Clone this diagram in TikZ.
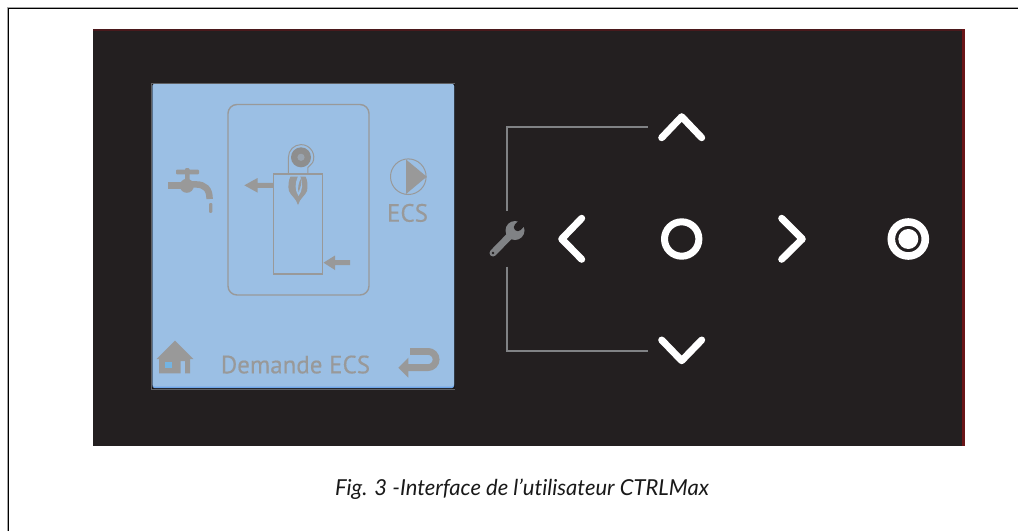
\documentclass[tikz,border=0pt]{standalone}
\usepackage{fontspec}
\setmainfont[Ligatures=NoCommon]{Lato}
\newfontfamily\lcdfont[FakeBold=0.3]{PT Sans}
\definecolor{panel}{HTML}{231F20}
\definecolor{lcd}{HTML}{9BBFE4}
\definecolor{lcdedge}{HTML}{6FA5E8}
\definecolor{glyph}{HTML}{999999}
\definecolor{glyphdark}{HTML}{8E8E8E}
\definecolor{wrenchgray}{HTML}{808285}
\definecolor{redge}{HTML}{6A1518}
\definecolor{houseblue}{HTML}{74B4E2}
\tikzset{
  glyphline/.style={draw=glyph,line width=1.9pt},
  boilerline/.style={draw=glyph,line width=1.4pt},
  glyphthin/.style={draw=glyph,line width=1pt},
  keyline/.style={draw=white,line width=7pt,line cap=round,line join=round},
  linkline/.style={draw=wrenchgray,line width=2pt},
  lcdtext/.style={text=glyph,font=\lcdfont\fontsize{25}{25}\selectfont,inner sep=0pt,anchor=base},
}
\begin{document}
\begin{tikzpicture}[x=1pt,y=1pt,yscale=-1]
\useasboundingbox (0,0) rectangle (1018,531);
\fill[white] (0,0) rectangle (1018,531);
% page frame
\draw[black!35,line width=1pt] (7.5,531) -- (7.5,7.5) -- (1018,7.5);
\draw[black,line width=1.1pt] (8.5,531) -- (8.5,8.5) -- (1018,8.5);
% panel
\fill[panel] (93,29) rectangle (965,445.5);
\fill[redge!55!panel] (93,29) rectangle (965,31);
\fill[redge] (962,29) rectangle (965,445.5);
% screen
\fill[wrenchgray!75!black] (150.5,83) rectangle (455,389.5);
\fill[panel!70!black] (151.8,84) rectangle (454.6,388.6);
\fill[lcdedge,rounded corners=2pt] (152.5,84) rectangle (454,388);
\fill[lcd,rounded corners=2pt] (152.5,84) rectangle (454,386.5);
% boiler frame and tank
\draw[boilerline,rounded corners=9pt] (228,104.5) rectangle (369,295);
\draw[glyphline] (273.5,174) rectangle (322.5,274);
% burner
\draw[glyphthin] (288.4,173.5) -- (288.4,157.3) arc[start angle=180,end angle=385,radius=12.7pt] -- (307.8,167.5) -- (307.8,173.5);
\fill[glyphdark] (301,157.3) circle[radius=10pt];
\fill[glyph!70!lcd] (301,157.3) circle[radius=3.6pt];
% flame
\fill[glyph] (290.5,176.5) .. controls (288.5,180) and (287.8,187) .. (289,191) .. controls (291,196) and (296,198) .. (298,205) .. controls (300,198) and (305,196) .. (307,191) .. controls (308,186) and (307.5,180) .. (305.5,176.5) -- cycle;
\fill[lcd] (298,176) .. controls (295,183) and (294.5,190) .. (298.5,196) .. controls (302.5,191) and (303.5,183) .. (300,176) -- cycle;
\fill[glyph] (301.2,178) .. controls (298.5,183) and (297.5,188) .. (298.5,192) .. controls (300.5,188) and (302,183) .. (301.2,178) -- cycle;
% tank arrows
\fill[glyph] (244.3,185.3) -- (257.5,178) -- (257.5,182.8) -- (273,182.8) -- (273,187.8) -- (257.5,187.8) -- (257.5,192.6) -- cycle;
\fill[glyph] (323.5,262.7) -- (335,255.5) -- (335,260.2) -- (350,260.2) -- (350,265.2) -- (335,265.2) -- (335,270) -- cycle;
% tap
\fill[glyph,rounded corners=1pt] (176,169.5) rectangle (199,174.3);
\fill[glyph,rounded corners=1pt] (185,168) rectangle (189.5,182);
\fill[glyph] (186.8,185.8) circle[radius=7pt];
\fill[glyph] (168,182.3) rectangle (186,189);
\draw[glyph,line width=6.5pt] (186,184.4) -- (196,184.4) .. controls (205,184.6) and (209.6,189) .. (209.6,199);
\fill[glyph,rounded corners=1pt] (209,203) rectangle (212.4,212.8);
% pump
\draw[glyphthin] (408.3,176.7) circle[radius=17.8pt];
\fill[glyph] (406,159.5) -- (426.7,176.7) -- (406,194) -- cycle;
\node[lcdtext] (ecs) at (407.5,221.7) {ECS};
% status line
\node[lcdtext] (title) at (295.5,373.3) {Demande ECS};
% house
\fill[glyph] (175,340.7) -- (193.4,359) -- (190,359) -- (190,373.4) -- (185,373.4) -- (185,361) -- (180.7,361) -- (180.7,373.4) -- (159,373.4) -- (159,359) -- (156.7,359) -- cycle;
\fill[houseblue] (165,361.7) rectangle (171.7,368.3);
% back arrow
\fill[glyph] (398.3,367.7) -- (408.3,357.7) -- (408.3,377.7) -- cycle;
\draw[glyph,line width=6.8pt] (407,367.6) -- (428,367.6) arc[start angle=90,end angle=-90,radius=8.1pt] -- (410,351.4);
% key links
\coordinate (wrtop) at (506.7,211);
\coordinate (wrbot) at (506.7,266.7);
\coordinate (uplink) at (648.3,126.7);
\coordinate (downlink) at (648.3,350.7);
\draw[linkline] (wrtop) |- (uplink);
\draw[linkline] (wrbot) |- (downlink);
% wrench
\draw[wrenchgray,line width=7pt,line cap=round] (493,253) -- (512,233.5);
\fill[wrenchgray] (515,230.5) circle[radius=9.5pt];
\fill[panel] (517.8,227.2) circle[radius=4pt];
\fill[panel] (515,224.4) -- (520.6,230) -- (530,220.6) -- (524.4,215) -- cycle;
\fill[panel] (493,253) circle[radius=1.4pt];
% keys
\draw[keyline] (661.7,137.7) -- (681.7,116.7) -- (701.7,137.7);
\draw[keyline] (661.7,340) -- (681.7,360.7) -- (701.7,340);
\draw[keyline] (581.7,218.3) -- (561.7,239) -- (581.7,259.3);
\draw[keyline] (781.7,218.3) -- (802.3,239) -- (781.7,259.3);
\draw[draw=white,line width=7pt] (681.7,239) circle[radius=17.2pt];
\draw[draw=white,line width=7.6pt] (908.3,239) circle[radius=17pt];
\fill[white] (908.3,239) circle[radius=10pt];
% caption
\node[inner sep=0pt,anchor=base,font=\itshape\fontsize{22}{24}\selectfont,text=black!90] (caption) at (522,495.7) {Fig. 3 -Interface de l'utilisateur CTRLMax};
\end{tikzpicture}
\end{document}
